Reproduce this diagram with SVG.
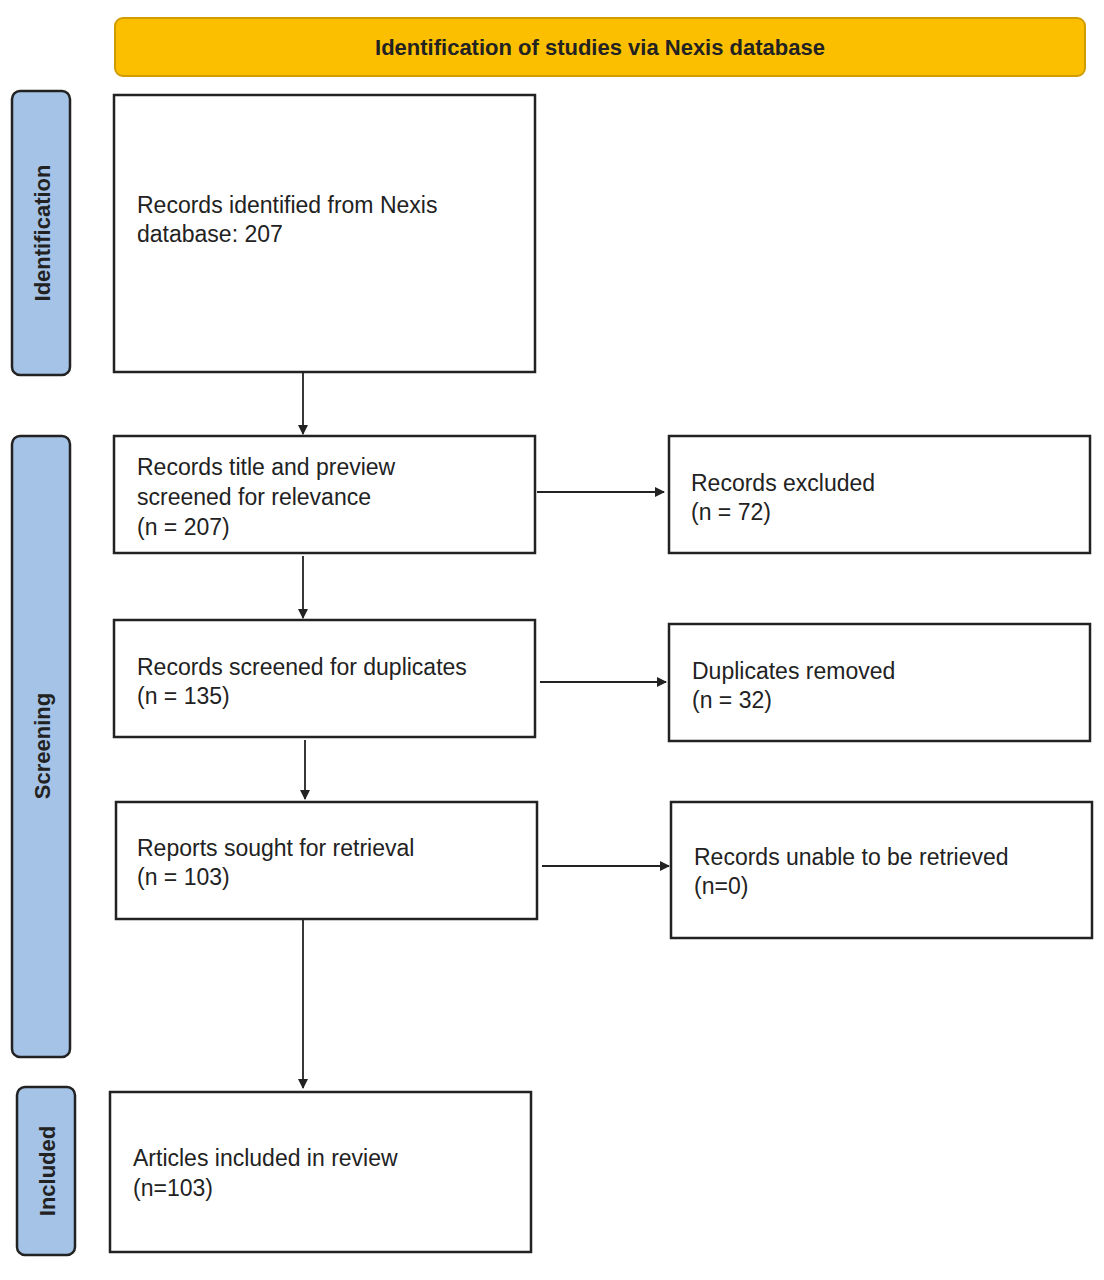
<svg xmlns="http://www.w3.org/2000/svg" width="1104" height="1280" viewBox="0 0 1104 1280">
<style>
.box{fill:#fff;stroke:#222;stroke-width:2.5}
.side{fill:#a4c3e6;stroke:#222;stroke-width:2.5}
.t{font-family:"Liberation Sans",Arial,sans-serif;font-size:23px;fill:#222}
.h{font-family:"Liberation Sans",Arial,sans-serif;font-size:22px;font-weight:bold;fill:#222}
.c{stroke:#222;stroke-width:1.8;fill:none;marker-end:url(#a)}
</style>
<defs><marker id="a" markerWidth="10" markerHeight="10" refX="9" refY="5" orient="auto" markerUnits="userSpaceOnUse"><path d="M0,0 L10,5 L0,10 z" fill="#222"/></marker>
<marker id="b" markerWidth="16" markerHeight="16" refX="15" refY="8" orient="auto" markerUnits="userSpaceOnUse"><path d="M0,0 L16,8 L0,16 z" fill="#222"/></marker></defs>
<rect width="1104" height="1280" fill="#fff"/>
<g id="header"><rect x="115" y="18" width="970" height="58" rx="8" fill="#fbbf00" stroke="#d09c00" stroke-width="2"/><text class="h" x="600" y="55" text-anchor="middle">Identification of studies via Nexis database</text></g>
<g id="lbl-ident"><rect class="side" x="12" y="91" width="58" height="284" rx="8"/><text class="h" transform="translate(50,233) rotate(-90)" text-anchor="middle">Identification</text></g>
<g id="lbl-screen"><rect class="side" x="12" y="436" width="58" height="621" rx="8"/><text class="h" transform="translate(50,746) rotate(-90)" text-anchor="middle">Screening</text></g>
<g id="lbl-incl"><rect class="side" x="17" y="1087" width="58" height="168" rx="8"/><text class="h" transform="translate(55,1171) rotate(-90)" text-anchor="middle">Included</text></g>
<g id="n1"><rect class="box" x="114" y="95" width="421" height="277"/><text class="t" x="137" y="213">Records identified from Nexis</text><text class="t" x="137" y="242">database: 207</text></g>
<g id="n2"><rect class="box" x="114" y="436" width="421" height="117"/><text class="t" x="137" y="475">Records title and preview</text><text class="t" x="137" y="505">screened for relevance</text><text class="t" x="137" y="535">(n = 207)</text></g>
<g id="n3"><rect class="box" x="669" y="436" width="421" height="117"/><text class="t" x="691" y="491">Records excluded</text><text class="t" x="691" y="520">(n = 72)</text></g>
<g id="n4"><rect class="box" x="114" y="620" width="421" height="117"/><text class="t" x="137" y="675">Records screened for duplicates</text><text class="t" x="137" y="704">(n = 135)</text></g>
<g id="n5"><rect class="box" x="669" y="624" width="421" height="117"/><text class="t" x="692" y="679">Duplicates removed</text><text class="t" x="692" y="708">(n = 32)</text></g>
<g id="n6"><rect class="box" x="116" y="802" width="421" height="117"/><text class="t" x="137" y="856">Reports sought for retrieval</text><text class="t" x="137" y="885">(n = 103)</text></g>
<g id="n7"><rect class="box" x="671" y="802" width="421" height="136"/><text class="t" x="694" y="865">Records unable to be retrieved</text><text class="t" x="694" y="894">(n=0)</text></g>
<g id="n8"><rect class="box" x="110" y="1092" width="421" height="160"/><text class="t" x="133" y="1166">Articles included in review</text><text class="t" x="133" y="1196">(n=103)</text></g>
<g id="connectors">
<line class="c" x1="303" y1="372" x2="303" y2="434" marker-end="url(#b)"/>
<line class="c" x1="537" y1="492" x2="664" y2="492" marker-end="url(#b)"/>
<line class="c" x1="303" y1="556" x2="303" y2="618" marker-end="url(#b)"/>
<line class="c" x1="540" y1="682" x2="666" y2="682" marker-end="url(#b)"/>
<line class="c" x1="305" y1="740" x2="305" y2="799" marker-end="url(#b)"/>
<line class="c" x1="542" y1="866" x2="669" y2="866" marker-end="url(#b)"/>
<line class="c" x1="303" y1="920" x2="303" y2="1088" marker-end="url(#b)"/>
</g>
</svg>
